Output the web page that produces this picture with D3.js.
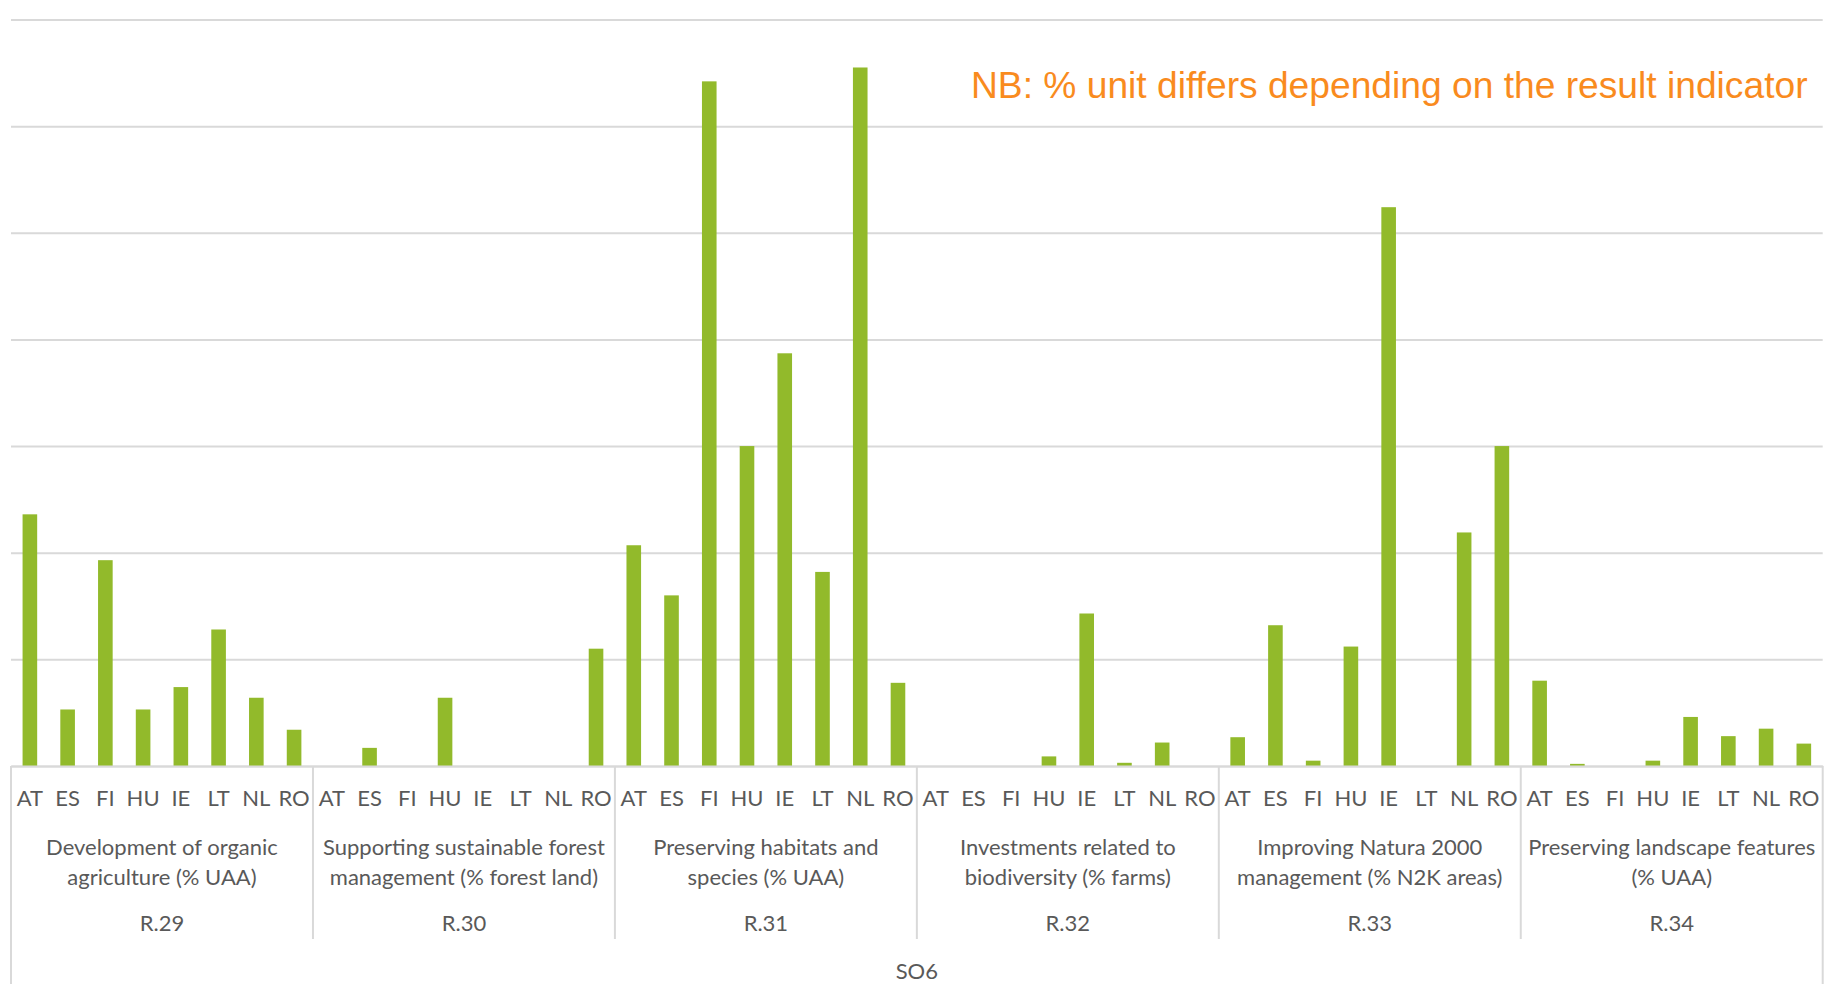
<!DOCTYPE html>
<html>
<head>
<meta charset="utf-8">
<script src="https://cdn.jsdelivr.net/npm/d3@7"></script>
<style>
  html, body { margin: 0; padding: 0; background: #ffffff; }
  svg { display: block; }
</style>
</head>
<body>
<svg id="chart" width="1826" height="984"></svg>
<script>
// ---- data ----
const countries = ["AT", "ES", "FI", "HU", "IE", "LT", "NL", "RO"];
const indicators = ["R.29", "R.30", "R.31", "R.32", "R.33", "R.34"];
const indicatorNames = [
  ["Development of organic", "agriculture (% UAA)"],
  ["Supporting sustainable forest", "management (% forest land)"],
  ["Preserving habitats and", "species (% UAA)"],
  ["Investments related to", "biodiversity (% farms)"],
  ["Improving Natura 2000", "management (% N2K areas)"],
  ["Preserving landscape features", "(% UAA)"]
];
const r29 = [23.6, 5.3, 19.3, 5.3, 7.4, 12.8, 6.4, 3.4];
const r30 = [0, 1.7, 0, 6.4, 0, 0, 0, 11.0];
const r31 = [20.7, 16.0, 64.2, 30.0, 38.7, 18.2, 65.5, 7.8];
const r32 = [0, 0, 0, 0.9, 14.3, 0.3, 2.2, 0];
const r33 = [2.7, 13.2, 0.5, 11.2, 52.4, 0, 21.9, 30.0];
const r34 = [8.0, 0.2, 0, 0.5, 4.6, 2.8, 3.5, 2.1];
const seriesByIndicator = [r29, r30, r31, r32, r33, r34];
const yTicks = [0, 10, 20, 30, 40, 50, 60, 70];
const topLabel = "SO6";
const note = "NB: % unit differs depending on the result indicator";

// ---- layout ----
(function () {
const svg = d3.select("#chart");
const pLeft = 11, pRight = 1822.7, pTop = 19.5, pBase = 766;
const green = "#92BA2B", grid = "#D9D9D9", txt = "#595959", orange = "#F98B1E";
const labelFont = "Lato, 'Open Sans', sans-serif";
const labelSize = "22px", labelWeight = 400;

const rows = [];
indicators.forEach((ind, gi) => {
  countries.forEach((c, ci) => {
    rows.push({ key: ind + "|" + c, ind, c, v: seriesByIndicator[gi][ci] });
  });
});

const x = d3.scaleBand().domain(rows.map(d => d.key)).range([pLeft, pRight])
  .paddingInner(0.613).paddingOuter(0.3065);
const xg = d3.scaleBand().domain(indicators).range([pLeft, pRight]);
const y = d3.scaleLinear().domain([0, 70]).range([pBase, pTop]);

// gridlines
svg.append("g")
  .attr("transform", `translate(${pLeft},0)`)
  .call(d3.axisLeft(y).tickValues(yTicks).tickSize(-(pRight - pLeft)).tickFormat(""))
  .call(g => g.select(".domain").remove())
  .call(g => g.selectAll(".tick line").attr("stroke", grid).attr("stroke-width", 2));

// bars
svg.append("g").selectAll("rect").data(rows).join("rect")
  .attr("x", d => x(d.key))
  .attr("width", x.bandwidth())
  .attr("y", d => y(d.v))
  .attr("height", d => pBase - y(d.v))
  .attr("fill", green);

// category axis
const xAxis = svg.append("g")
  .attr("transform", `translate(0,${pBase})`)
  .call(d3.axisBottom(x).tickSize(0).tickPadding(0).tickFormat(k => k.split("|")[1]));
xAxis.select(".domain").attr("stroke", grid).attr("stroke-width", 2);
xAxis.selectAll(".tick text")
  .attr("y", 40).attr("dy", null)
  .attr("fill", txt)
  .style("font-family", labelFont)
  .style("font-weight", labelWeight)
  .style("font-size", labelSize);

// group separators
const seps = xg.domain().map(g => xg(g)).concat([pRight]);
svg.append("g").selectAll("line").data(seps).join("line")
  .attr("x1", d => d).attr("x2", d => d)
  .attr("y1", pBase)
  .attr("y2", (d, i) => (i === 0 || i === seps.length - 1) ? 984 : 939)
  .attr("stroke", grid).attr("stroke-width", 2);

// group labels
const gl = svg.append("g");
indicators.forEach((ind, gi) => {
  const cx = xg(ind) + xg.bandwidth() / 2;
  indicatorNames[gi].forEach((line, li) => {
    gl.append("text").attr("x", cx).attr("y", 855 + li * 30)
      .attr("text-anchor", "middle").attr("fill", txt)
      .style("font-family", labelFont).style("font-weight", labelWeight).style("font-size", labelSize)
      .text(line);
  });
  gl.append("text").attr("x", cx).attr("y", 931)
    .attr("text-anchor", "middle").attr("fill", txt)
    .style("font-family", labelFont).style("font-weight", labelWeight).style("font-size", labelSize)
    .text(ind);
});

// top-level label
svg.append("text").attr("x", (pLeft + pRight) / 2).attr("y", 979)
  .attr("text-anchor", "middle").attr("fill", txt)
  .style("font-family", labelFont).style("font-weight", labelWeight).style("font-size", labelSize)
  .text(topLabel);

// note
svg.append("text").attr("x", 971).attr("y", 98)
  .attr("fill", orange)
  .style("font-family", "'Liberation Sans', Arial, sans-serif")
  .style("font-size", "37.2px")
  .text(note);
})();
</script>
</body>
</html>
